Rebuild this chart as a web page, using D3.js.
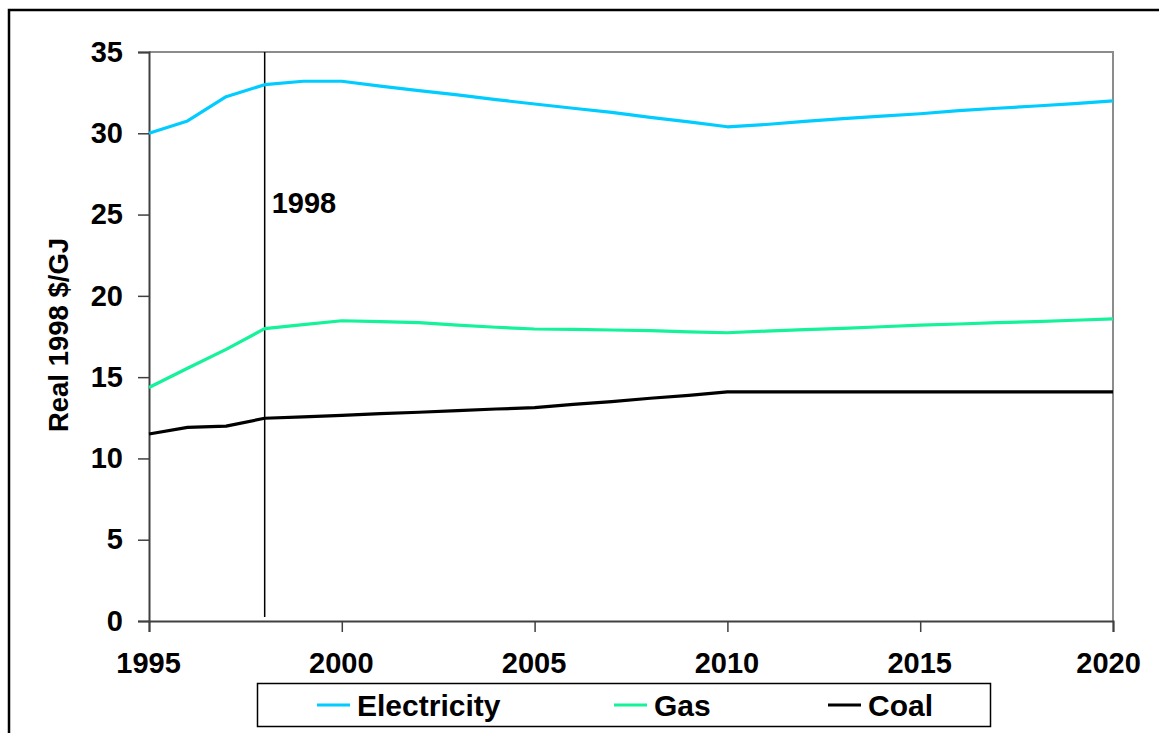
<!DOCTYPE html>
<html>
<head>
<meta charset="utf-8">
<script src="https://cdn.jsdelivr.net/npm/d3@7"></script>
<style>
  html, body { margin: 0; padding: 0; background: #fff; }
  svg { display: block; font-family: "Liberation Sans", Arial, sans-serif; font-weight: bold; }
</style>
</head>
<body>
<svg id="chart" width="1159" height="733"></svg>
<script>
// Energy price projections, real 1998 $/GJ
const years = d3.range(1995, 2021);
const electricity = [30.0, 30.76, 32.25, 32.99, 33.2, 33.2, 32.9, 32.62, 32.36, 32.07,
                     31.8, 31.54, 31.29, 30.98, 30.7, 30.4, 30.54, 30.73, 30.9, 31.05,
                     31.2, 31.39, 31.54, 31.68, 31.82, 31.99];
const gas = [14.36, 15.55, 16.71, 17.98, 18.23, 18.47, 18.42, 18.35, 18.2, 18.07,
             17.96, 17.94, 17.9, 17.86, 17.78, 17.73, 17.83, 17.92, 18.0, 18.1,
             18.2, 18.27, 18.35, 18.42, 18.5, 18.58];
const coal = [11.5, 11.91, 11.99, 12.47, 12.55, 12.65, 12.75, 12.84, 12.94, 13.04,
              13.12, 13.33, 13.49, 13.7, 13.88, 14.09, 14.09, 14.09, 14.09, 14.09,
              14.09, 14.09, 14.09, 14.09, 14.09, 14.09];
const seriesNames = ["Electricity", "Gas", "Coal"];
const xTicks = [1995, 2000, 2005, 2010, 2015, 2020];
const yTicks = [0, 5, 10, 15, 20, 25, 30, 35];
const markerYear = 1998;

const colors = { Electricity: "#00CCFF", Gas: "#14F29A", Coal: "#000000" };
const seriesValues = { Electricity: electricity, Gas: gas, Coal: coal };

const svg = d3.select("#chart");
const plotLeft = 149, plotRight = 1113, plotTop = 52, plotBottom = 621;

const x = d3.scaleLinear().domain([1995, 2020]).range([plotLeft, plotRight]);
const y = d3.scaleLinear().domain([0, 35]).range([plotBottom, plotTop]);

// outer frame
svg.append("rect")
  .attr("x", 9).attr("y", 10).attr("width", 1170).attr("height", 740)
  .attr("fill", "#fff").attr("stroke", "#000").attr("stroke-width", 2.5);

// plot area border (top & right in grey)
svg.append("path")
  .attr("d", `M${plotLeft},${plotTop}H${plotRight}V${plotBottom}`)
  .attr("fill", "none").attr("stroke", "#8c8c8c").attr("stroke-width", 2);

// y axis
const yAxis = svg.append("g")
  .attr("transform", `translate(${plotLeft},0)`)
  .call(d3.axisLeft(y).tickValues(yTicks).tickSize(11).tickPadding(15).tickFormat(d3.format("d")));
yAxis.select(".domain").attr("stroke", "#404040").attr("stroke-width", 2);
yAxis.selectAll(".tick line").attr("stroke", "#404040").attr("stroke-width", 1.5);
yAxis.selectAll("text").attr("font-size", 29).attr("font-weight", "bold")
  .attr("fill", "#000").attr("font-family", "Liberation Sans, Arial, sans-serif");

// x axis
const xAxis = svg.append("g")
  .attr("transform", `translate(0,${plotBottom})`)
  .call(d3.axisBottom(x).tickValues(xTicks).tickSize(11).tickPadding(0).tickFormat(d3.format("d")));
xAxis.select(".domain").attr("stroke", "#404040").attr("stroke-width", 2);
xAxis.selectAll(".tick line").attr("stroke", "#404040").attr("stroke-width", 1.5);
xAxis.selectAll("text")
  .attr("font-size", 29).attr("font-weight", "bold").attr("fill", "#000")
  .attr("font-family", "Liberation Sans, Arial, sans-serif")
  .attr("dy", null).attr("y", 52)
  .attr("dx", d => d === 2020 ? -5 : -1);

// y axis title
svg.append("text")
  .attr("transform", "translate(68,335) rotate(-90)")
  .attr("text-anchor", "middle")
  .attr("font-size", 27.5)
  .text("Real 1998 $/GJ");

// marker line for the base year
svg.append("line")
  .attr("x1", x(markerYear)).attr("x2", x(markerYear))
  .attr("y1", plotTop).attr("y2", plotBottom - 4)
  .attr("stroke", "#000").attr("stroke-width", 1.5);
svg.append("text")
  .attr("x", x(markerYear) + 7).attr("y", 213)
  .attr("font-size", 29)
  .text(String(markerYear));

// series lines
const line = d3.line().x((d, i) => x(years[i])).y(d => y(d));
seriesNames.forEach(name => {
  svg.append("path")
    .datum(seriesValues[name])
    .attr("d", line)
    .attr("fill", "none")
    .attr("stroke", colors[name])
    .attr("stroke-width", 3.2)
    .attr("stroke-linejoin", "round");
});

// legend
const legend = svg.append("g");
legend.append("rect")
  .attr("x", 257.5).attr("y", 683.5).attr("width", 733).attr("height", 43)
  .attr("fill", "#fff").attr("stroke", "#000").attr("stroke-width", 1.5);
const legendX = [317, 614, 828];
seriesNames.forEach((name, i) => {
  legend.append("line")
    .attr("x1", legendX[i]).attr("x2", legendX[i] + 33)
    .attr("y1", 705).attr("y2", 705)
    .attr("stroke", colors[name]).attr("stroke-width", 3.2);
  legend.append("text")
    .attr("x", legendX[i] + 40).attr("y", 716)
    .attr("font-size", 30)
    .text(name);
});
</script>
</body>
</html>
